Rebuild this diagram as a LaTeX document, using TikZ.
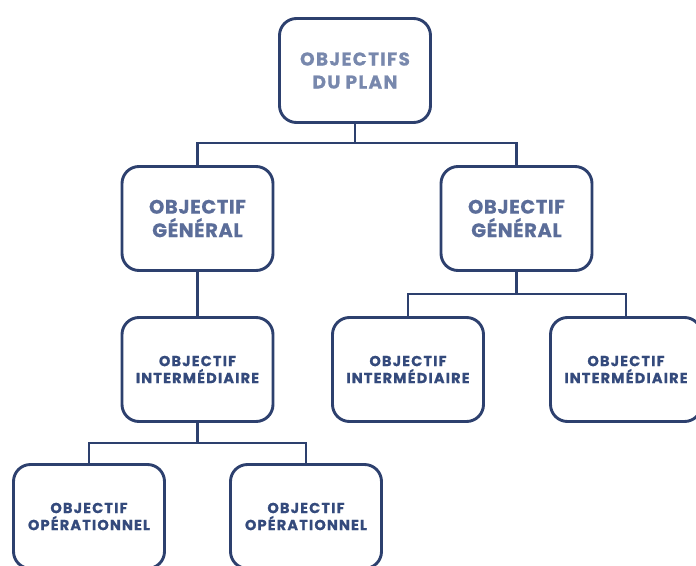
\documentclass[tikz,border=0pt]{standalone}
\usepackage{fontspec}
\setmainfont{Poppins}
\usepackage{tikz}
\usetikzlibrary{positioning}
\definecolor{navy}{HTML}{2D406E}
\definecolor{planc}{HTML}{7888AD}
\definecolor{genc}{HTML}{5B6D99}
\definecolor{smallc}{HTML}{344A7C}

\begin{document}
\begin{tikzpicture}[x=1pt,y=1pt]
\tikzstyle{box}=[draw=navy, line width=2.9pt, rounded corners=17pt, fill=white,
  minimum width=151pt, minimum height=104pt, align=center, inner sep=0pt]
\tikzstyle{top}=[font=\addfontfeatures{LetterSpace=7,FakeBold=0.6}\bfseries\fontsize{18.5}{23}\selectfont, text=planc]
\tikzstyle{big}=[font=\addfontfeatures{LetterSpace=3,FakeBold=0.6}\bfseries\fontsize{19.5}{23.5}\selectfont, text=genc]
\tikzstyle{small}=[font=\addfontfeatures{LetterSpace=8,FakeBold=0.8}\bfseries\fontsize{14.5}{17}\selectfont, text=smallc]
\tikzstyle{link}=[draw=navy, line width=2.9pt]
\useasboundingbox (0,0) rectangle (696,-565);
% boxes
\node[box, top] (plan) at (355,-70.5) {OBJECTIFS\\DU PLAN};
\node[box, big] (gen1) at (197.5,-218.5) {OBJECTIF\\GÉNÉRAL};
\node[box, big] (gen2) at (516.5,-218.5) {OBJECTIF\\GÉNÉRAL};
\node[box, small] (int1) at (197.5,-369.5) {OBJECTIF\\INTERMÉDIAIRE};
\node[box, small] (int2) at (408,-369.5) {OBJECTIF\\INTERMÉDIAIRE};
\node[box, small] (int3) at (626,-369.5) {OBJECTIF\\INTERMÉDIAIRE};
\node[box, small] (op1) at (89,-516.5) {OBJECTIF\\OPÉRATIONNEL};
\node[box, small] (op2) at (306,-516.5) {OBJECTIF\\OPÉRATIONNEL};
% links
\draw[link] (plan.south) -- ++(0,-19) coordinate (j0);
\draw[link] (j0) -| (gen1.north);
\draw[link] (j0) -| (gen2.north);
\draw[link] (gen1.south) -- (int1.north);
\draw[link] (gen2.south) -- ++(0,-22) coordinate (j1);
\draw[link] (j1) -| (int2.north);
\draw[link] (j1) -| (int3.north);
\draw[link] (int1.south) -- ++(0,-20) coordinate (j2);
\draw[link] (j2) -| (op1.north);
\draw[link] (j2) -| (op2.north);
\end{tikzpicture}
\end{document}
